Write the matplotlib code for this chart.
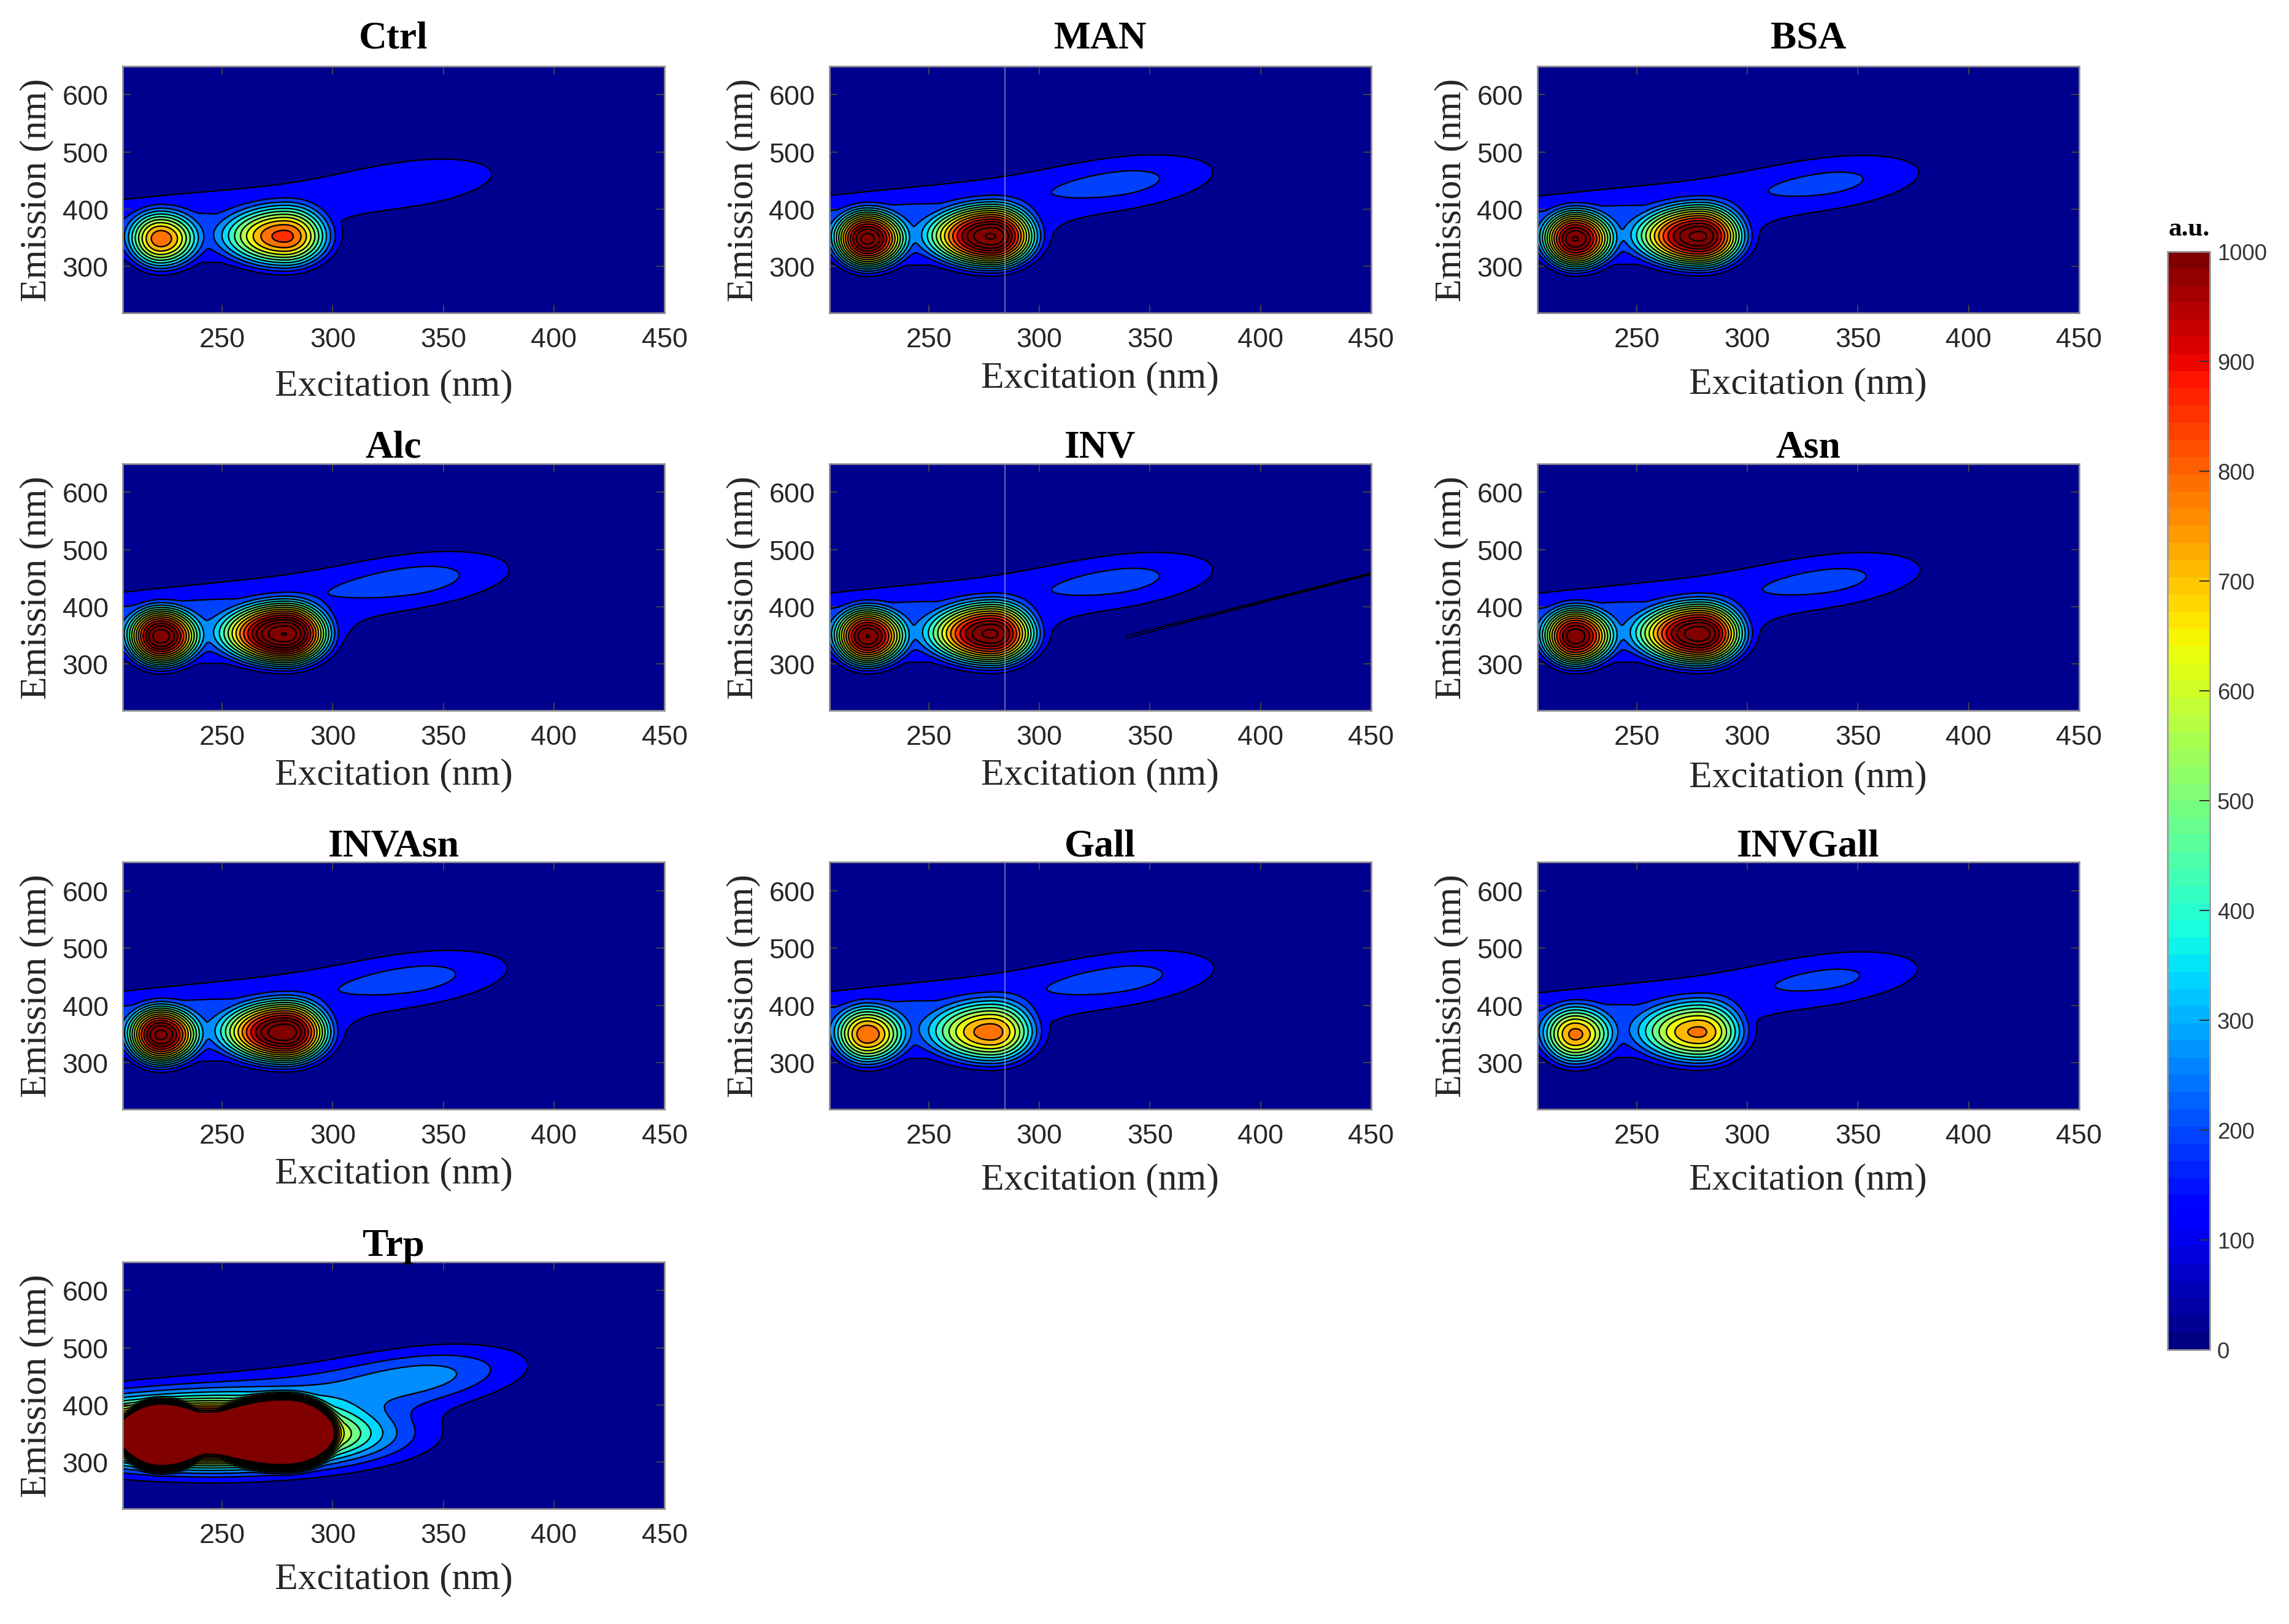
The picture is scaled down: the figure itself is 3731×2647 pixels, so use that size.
import numpy as np
import matplotlib
matplotlib.use('Agg')
import matplotlib.pyplot as plt
from matplotlib import cm, colors

plt.rcParams['font.family'] = ['Liberation Serif', 'DejaVu Serif']

# samples, in panel order (row by row)
samples = ['Ctrl', 'MAN', 'BSA', 'Alc', 'INV', 'Asn', 'INVAsn', 'Gall', 'INVGall', 'Trp']

peak_t1 = [640, 960, 940, 970, 930, 920, 950, 640, 610, 2500]       # ex ~222 nm / em ~346 nm
peak_t2 = [730, 1060, 1010, 1120, 1000, 1040, 1050, 670, 650, 2600]  # ex ~279 nm / em ~352 nm
bridge = [150, 180, 170, 190, 175, 175, 180, 150, 140, 1600]         # broad protein-like base
humic = [140, 178, 172, 188, 178, 176, 182, 182, 168, 275]           # plume, ex ~335 / em ~445
scatter = [0, 0, 0, 0, 85, 0, 0, 0, 0, 0]                            # Rayleigh ridge (INV only)
saturation = [None] * 9 + [1040]                                     # detector ceiling (Trp)
has_seam = [False, True, False, False, True, False, False, True, False, False]
seam_ex = 284.5

# peak positions and footprint half-widths (nm)
t1_ex, t1_em, t1_rxl, t1_rxr, t1_rem = 222, 346, 20, 23, 72
t2_ex, t2_em, t2_rxl, t2_rxr, t2_rem = 279, 352, 38, 27, 78
br_ex, br_em, br_sx, br_sy = 245, 348, 42, 34
hu_ex, hu_em, hu_slope, hu_sr, hu_sl, hu_sv, hu_tail = 335, 445, 0.45, 33, 25, 35, 0.65

ex = np.arange(205, 451, 1.0)
em = np.arange(218, 652, 1.0)
EX, EM = np.meshgrid(ex, em)


def gauss(x, c, s):
    return np.exp(-0.5 * ((x - c) / s) ** 2)


def peak(cx, cy, rxl, rxr, ry):
    # biweight bump: flat top, smooth taper to zero at the footprint edge
    rx = np.where(EX < cx, rxl, rxr)
    r2 = ((EX - cx) / rx) ** 2 + ((EM - cy) / ry) ** 2
    return np.clip(1 - r2, 0, None) ** 2


def eem(i):
    z = peak_t1[i] * peak(t1_ex, t1_em, t1_rxl, t1_rxr, t1_rem)
    z = z + peak_t2[i] * peak(t2_ex, t2_em, t2_rxl, t2_rxr, t2_rem)
    z = z + bridge[i] * gauss(EX, br_ex, br_sx) * gauss(EM, br_em, br_sy)
    u = EX - hu_ex
    v = EM - (hu_em + hu_slope * u)
    along = np.where(u > 0, gauss(u, 0, hu_sr), hu_tail + (1 - hu_tail) * gauss(u, 0, hu_sl))
    z = z + humic[i] * along * gauss(v, 0, hu_sv)
    z = z + scatter[i] * gauss(EM, EX + 8, 2.5) * (EX >= 340)
    if saturation[i] is not None:
        z = np.minimum(z, saturation[i])
    return z


jet = plt.get_cmap('jet')
navy = '#00008f'
step = 75

fig = plt.figure(figsize=(15.546, 11.033), dpi=240)

lefts = [0.0536, 0.3623, 0.6716]
bottoms = [0.807, 0.5623, 0.317, 0.071]
w, h = 0.2367, 0.152
title_pad = [9, 3.3, 3.3, 3]
xlab_pad = [8, 4, 7, 4, 4, 5, 4, 7, 7, 7]

for i, name in enumerate(samples):
    r, c = divmod(i, 3)
    ax = fig.add_axes([lefts[c], bottoms[r], w, h])
    z = eem(i)
    lv = np.arange(step, z.max() + step, step)
    if saturation[i] is not None:
        lv = lv[lv < z.max()]
        levels = np.concatenate([[z.min() - 1], lv, [z.max() + 1]])
    else:
        levels = np.concatenate([[z.min() - 1], lv])
    mids = (levels[:-1] + levels[1:]) / 2
    fill = [jet(min(m / 1000, 1.0)) for m in mids]
    fill[0] = navy
    ax.contourf(EX, EM, z, levels=levels, colors=fill)
    ax.contour(EX, EM, z, levels=lv, colors='k', linewidths=0.7)
    if has_seam[i]:
        ax.axvline(seam_ex, color='white', lw=0.6, alpha=0.4)

    ax.set_xlim(205, 450)
    ax.set_ylim(219, 650)
    ax.set_xticks([250, 300, 350, 400, 450])
    ax.set_yticks([300, 400, 500, 600])
    ax.tick_params(direction='in', top=True, right=True, length=4, width=0.6,
                   color='0.25', labelsize=13.5, labelcolor='#262626', pad=7)
    for lbl in ax.get_xticklabels() + ax.get_yticklabels():
        lbl.set_fontfamily('Liberation Sans')
    for sp in ax.spines.values():
        sp.set_edgecolor('0.55')
        sp.set_linewidth(0.8)
    ax.set_xlabel('Excitation (nm)', fontsize=18.5, color='#262626', labelpad=xlab_pad[i])
    ax.set_ylabel('Emission (nm)', fontsize=18.5, color='#262626', labelpad=4)
    ax.set_title(name, fontsize=19, fontweight='bold', pad=title_pad[r])

cax = fig.add_axes([0.947, 0.169, 0.0185, 0.676])
sm = cm.ScalarMappable(norm=colors.Normalize(0, 1000), cmap=plt.get_cmap('jet', 64))
cb = fig.colorbar(sm, cax=cax, ticks=np.arange(0, 1001, 100))
cb.ax.tick_params(direction='in', length=5, width=0.6, color='0.2',
                  labelsize=11, labelcolor='#333333')
for lbl in cb.ax.get_yticklabels():
    lbl.set_fontfamily('Liberation Sans')
cb.outline.set_edgecolor('0.6')
cax.set_title('a.u.', fontsize=13, fontweight='bold', pad=8)

fig.savefig('out.png', dpi=240)
